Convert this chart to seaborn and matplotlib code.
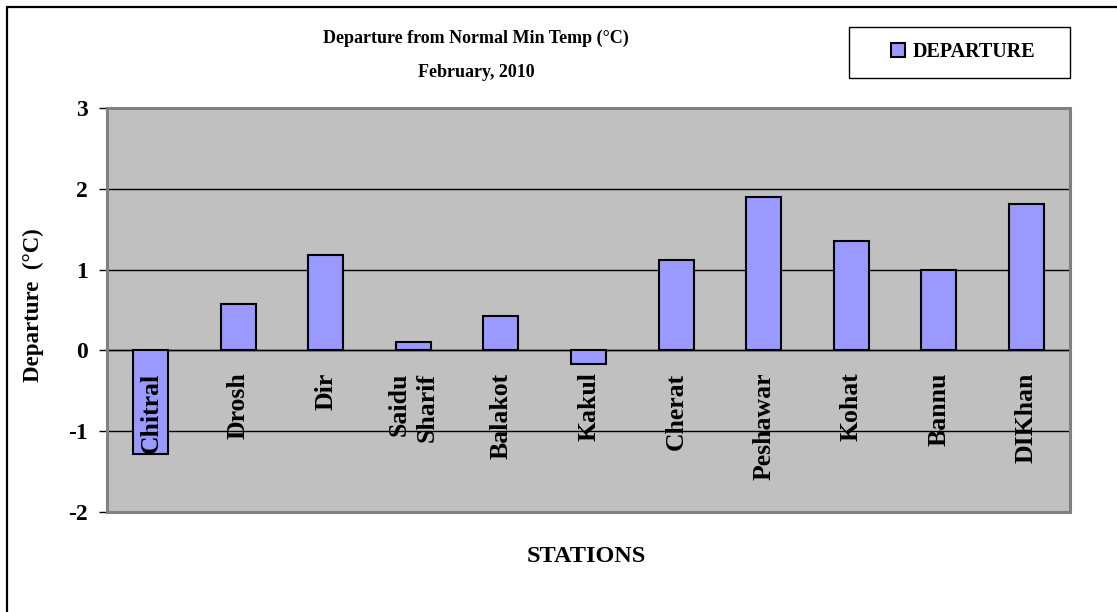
import matplotlib
matplotlib.use("Agg")
import matplotlib.pyplot as plt
from matplotlib.patches import Rectangle
import seaborn as sns
import pandas as pd

# Departure from normal minimum temperature, February 2010
stations = ["Chitral", "Drosh", "Dir", "Saidu\nSharif", "Balakot", "Kakul",
            "Cherat", "Peshawar", "Kohat", "Bannu", "DIKhan"]
departure = [-1.28, 0.58, 1.18, 0.11, 0.42, -0.17, 1.12, 1.9, 1.36, 0.99, 1.81]
y_ticks = [-2, -1, 0, 1, 2, 3]

df = pd.DataFrame({"station": stations, "departure": departure})

sns.set_theme(style="white")
plt.rcParams["font.family"] = ["Liberation Serif", "DejaVu Serif"]
plt.rcParams["font.weight"] = "bold"
for key in ("text.color", "axes.labelcolor", "xtick.color", "ytick.color"):
    plt.rcParams[key] = "black"

W, H = 1117, 612
fig = plt.figure(figsize=(W / 100, H / 100), dpi=100)
fig.patch.set_facecolor("white")

# plot area placed in pixel units
left, right, top, bottom = 107, 1070, 108, 512
ax = fig.add_axes([left / W, 1 - bottom / H, (right - left) / W, (bottom - top) / H])
ax.set_facecolor("#C0C0C0")

sns.barplot(data=df, x="station", y="departure", color="#9999FF", saturation=1,
            width=0.4, edgecolor="black", linewidth=1.5, label="DEPARTURE",
            ax=ax, zorder=3)

ax.set_ylim(-2, 3)
ax.set_xlim(-0.5, len(stations) - 0.5)
ax.set_yticks(y_ticks)
ax.set_yticklabels([str(v) for v in y_ticks], fontsize=17, fontweight="bold")
ax.yaxis.grid(True, color="black", linewidth=1)
ax.set_axisbelow(True)

# category axis sits on the zero line, ticks between categories
ax.spines["bottom"].set_position(("data", 0))
ax.spines["bottom"].set_color("black")
ax.spines["bottom"].set_linewidth(1)
ax.spines["bottom"].set_zorder(2)
ax.set_xticks([i + 0.5 for i in range(len(stations))])
ax.set_xticklabels([])
ax.tick_params(axis="x", direction="out", length=6.5, width=1, color="black")
ax.tick_params(axis="y", direction="out", length=6, width=1, color="black",
               pad=8, left=True)
ax.spines["left"].set_color("black")
ax.spines["left"].set_linewidth(1.2)
for s in ("top", "right"):
    ax.spines[s].set_visible(False)

# grey frame around the plot area
ax.add_patch(Rectangle((0, 0), 1, 1, transform=ax.transAxes, fill=False,
                       edgecolor="#808080", linewidth=2.2, zorder=5, clip_on=False))

# station names written vertically below the zero line
for i, name in enumerate(stations):
    ax.annotate(name, xy=(i, 0), xytext=(0, -16), textcoords="offset points",
                rotation=90, ha="center", va="top", multialignment="right",
                fontsize=18.5, fontweight="bold", zorder=6, linespacing=1.3)

ax.set_xlabel("STATIONS", fontsize=17.5, fontweight="bold", va="center")
ax.xaxis.set_label_coords((586 - left) / (right - left), (bottom - 557) / (bottom - top))
ax.set_ylabel("Departure  (°C)", fontsize=16.5, fontweight="bold", va="center")
ax.yaxis.set_label_coords((33 - left) / (right - left), (bottom - 305) / (bottom - top))

# two-line title
fig.text(476 / W, 1 - 43 / H, "Departure from Normal Min Temp (°C)",
         ha="center", va="baseline", fontsize=13, fontweight="bold")
fig.text(476 / W, 1 - 77 / H, "February, 2010",
         ha="center", va="baseline", fontsize=13, fontweight="bold")

# legend in its own box
fig.patches.append(Rectangle((849 / W, 1 - 78 / H), (1070 - 849) / W, 51 / H,
                             transform=fig.transFigure, fill=False,
                             edgecolor="black", linewidth=1))
leg = ax.legend(loc="center", bbox_to_anchor=(963 / W, 1 - 52 / H),
                bbox_transform=fig.transFigure, frameon=False,
                handlelength=0.7, handleheight=0.7, handletextpad=0.4,
                prop={"size": 14.5, "weight": "bold"})

# chart border
fig.patches.append(Rectangle((7 / W, -0.5), 2, 1.5 - 7 / H,
                             transform=fig.transFigure, fill=False,
                             edgecolor="black", linewidth=1.6))

fig.savefig("out.png", dpi=100)
